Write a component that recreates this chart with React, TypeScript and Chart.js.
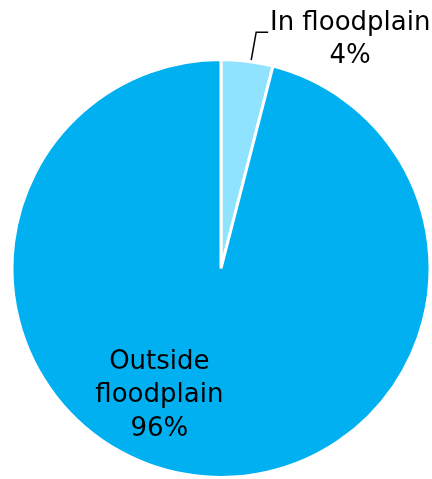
import React, { useEffect, useRef } from "react";
import { Chart, registerables } from "chart.js";

Chart.register(...registerables);

const categories = ["In floodplain", "Outside floodplain"];
const values = [4, 96];
const percentLabels = ["4%", "96%"];
const colors = ["#8FE3FF", "#00B0F0"];

const FONT = "26px 'DejaVu Sans'";

const labelPlugin = {
  id: "pieLabels",
  afterDatasetsDraw(chart: any) {
    const ctx = chart.ctx;
    const meta = chart.getDatasetMeta(0);
    const a0 = meta.data[0];
    const a1 = meta.data[1];
    if (!a0 || !a1) return;
    const cx = a0.x;
    const cy = a0.y;
    const r = a0.outerRadius;
    ctx.save();
    ctx.fillStyle = "#000";
    ctx.font = FONT;
    ctx.textAlign = "center";
    ctx.textBaseline = "alphabetic";

    // Leader line for small slice
    const mid = (a0.startAngle + a0.endAngle) / 2;
    const sx = cx + Math.cos(mid) * r + 4;
    const sy = cy + Math.sin(mid) * r - 1;
    const ex = sx + 5;
    const ey = sy - 28;
    const hx = ex + 12;
    ctx.strokeStyle = "#000";
    ctx.lineWidth = 1.5;
    ctx.beginPath();
    ctx.moveTo(sx, sy);
    ctx.lineTo(ex, ey);
    ctx.lineTo(hx, ey);
    ctx.stroke();
    const tx = hx + 82;
    ctx.fillText(categories[0], tx, ey - 2);
    ctx.fillText(percentLabels[0], tx, ey + 31);

    // Inside label for big slice
    const lx = cx - r * 0.295;
    const ly = cy + r * 0.48;
    ctx.fillText("Outside", lx, ly);
    ctx.fillText("floodplain", lx, ly + 33);
    ctx.fillText(percentLabels[1], lx, ly + 67);
    ctx.restore();
  },
};

export default function App() {
  const ref = useRef<HTMLCanvasElement | null>(null);
  useEffect(() => {
    if (!ref.current) return;
    const chart = new Chart(ref.current, {
      type: "pie",
      data: {
        labels: categories,
        datasets: [
          {
            data: values,
            backgroundColor: colors,
            borderColor: "#ffffff",
            borderWidth: 3,
          },
        ],
      },
      options: {
        responsive: false,
        animation: false,
        layout: { padding: { left: 10, top: 58, right: 0, bottom: 0 } },
        plugins: {
          legend: { display: false },
          tooltip: { enabled: false },
        },
      },
      plugins: [labelPlugin],
    });
    return () => chart.destroy();
  }, []);
  return (
    <div style={{ position: "absolute", left: 0, top: 0, width: 432, height: 479, background: "#fff" }}>
      <canvas ref={ref} width={432} height={479} />
    </div>
  );
}
